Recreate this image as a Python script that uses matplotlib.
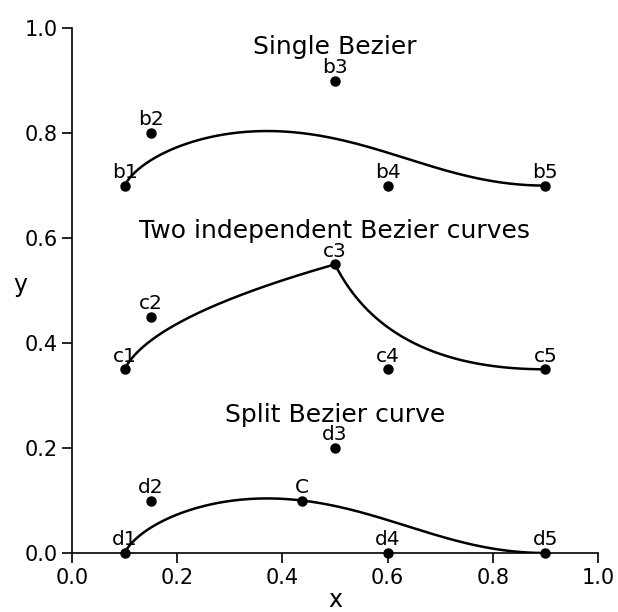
import numpy as np
import matplotlib
matplotlib.use("Agg")
import matplotlib.pyplot as plt
from math import comb

# control points of each example
b_names = ["b1", "b2", "b3", "b4", "b5"]
b_x = [0.1, 0.15, 0.5, 0.6, 0.9]
b_y = [0.7, 0.8, 0.9, 0.7, 0.7]

c_names = ["c1", "c2", "c3", "c4", "c5"]
c_x = [0.1, 0.15, 0.5, 0.6, 0.9]
c_y = [0.35, 0.45, 0.55, 0.35, 0.35]

d_names = ["d1", "d2", "d3", "d4", "d5"]
d_x = [0.1, 0.15, 0.5, 0.6, 0.9]
d_y = [0.0, 0.1, 0.2, 0.0, 0.0]
split_t = 0.5

titles = ["Single Bezier", "Two independent Bezier curves", "Split Bezier curve"]
title_y = [0.95, 0.6, 0.25]


def bezier(px, py, n=200):
    t = np.linspace(0, 1, n)
    k = len(px) - 1
    w = np.array([comb(k, i) * t**i * (1 - t)**(k - i) for i in range(k + 1)])
    return w.T @ np.array(px), w.T @ np.array(py)


def split(px, py, t):
    # de Casteljau: returns control points of both halves
    pts = [np.array([px, py]).T]
    while len(pts[-1]) > 1:
        p = pts[-1]
        pts.append((1 - t) * p[:-1] + t * p[1:])
    left = np.array([row[0] for row in pts])
    right = np.array([row[-1] for row in pts[::-1]])
    return left, right


fig, ax = plt.subplots(figsize=(6.18, 6.12), dpi=100)
fig.subplots_adjust(left=0.1165, right=0.9676, bottom=0.0964, top=0.954)

lw = 1.8
# single bezier
ax.plot(*bezier(b_x, b_y), color="black", lw=lw)
# two independent quadratic curves
ax.plot(*bezier(c_x[:3], c_y[:3]), color="black", lw=lw)
ax.plot(*bezier(c_x[2:], c_y[2:]), color="black", lw=lw)
# split curve
left, right = split(d_x, d_y, split_t)
ax.plot(*bezier(left[:, 0], left[:, 1]), color="black", lw=lw)
ax.plot(*bezier(right[:, 0], right[:, 1]), color="black", lw=lw)

pt_x = b_x + c_x + d_x + [left[-1, 0]]
pt_y = b_y + c_y + d_y + [left[-1, 1]]
pt_names = b_names + c_names + d_names + ["C"]
ax.plot(pt_x, pt_y, "o", color="black", ms=6.5, clip_on=False, zorder=3)
for name, x, y in zip(pt_names, pt_x, pt_y):
    ax.annotate(name, (x, y), xytext=(0, 5.5), textcoords="offset points",
                ha="center", va="baseline", fontsize=14.5)

for title, y in zip(titles, title_y):
    ax.text(0.5, y, title, ha="center", va="baseline", fontsize=18)

ax.set_xlim(0, 1)
ax.set_ylim(0, 1)
ax.set_xticks([0.0, 0.2, 0.4, 0.6, 0.8, 1.0])
ax.set_yticks([0.0, 0.2, 0.4, 0.6, 0.8, 1.0])
ax.tick_params(labelsize=15, length=7, width=1.2)
ax.spines["top"].set_visible(False)
ax.spines["right"].set_visible(False)
for s in ["left", "bottom"]:
    ax.spines[s].set_linewidth(1.2)

ax.set_xlabel("x", fontsize=17)
ax.set_ylabel("y", fontsize=17, rotation=0)
ax.xaxis.set_label_coords(0.5, -0.067)
ax.yaxis.set_label_coords(-0.099, 0.488)

fig.savefig("out.png", dpi=100)
